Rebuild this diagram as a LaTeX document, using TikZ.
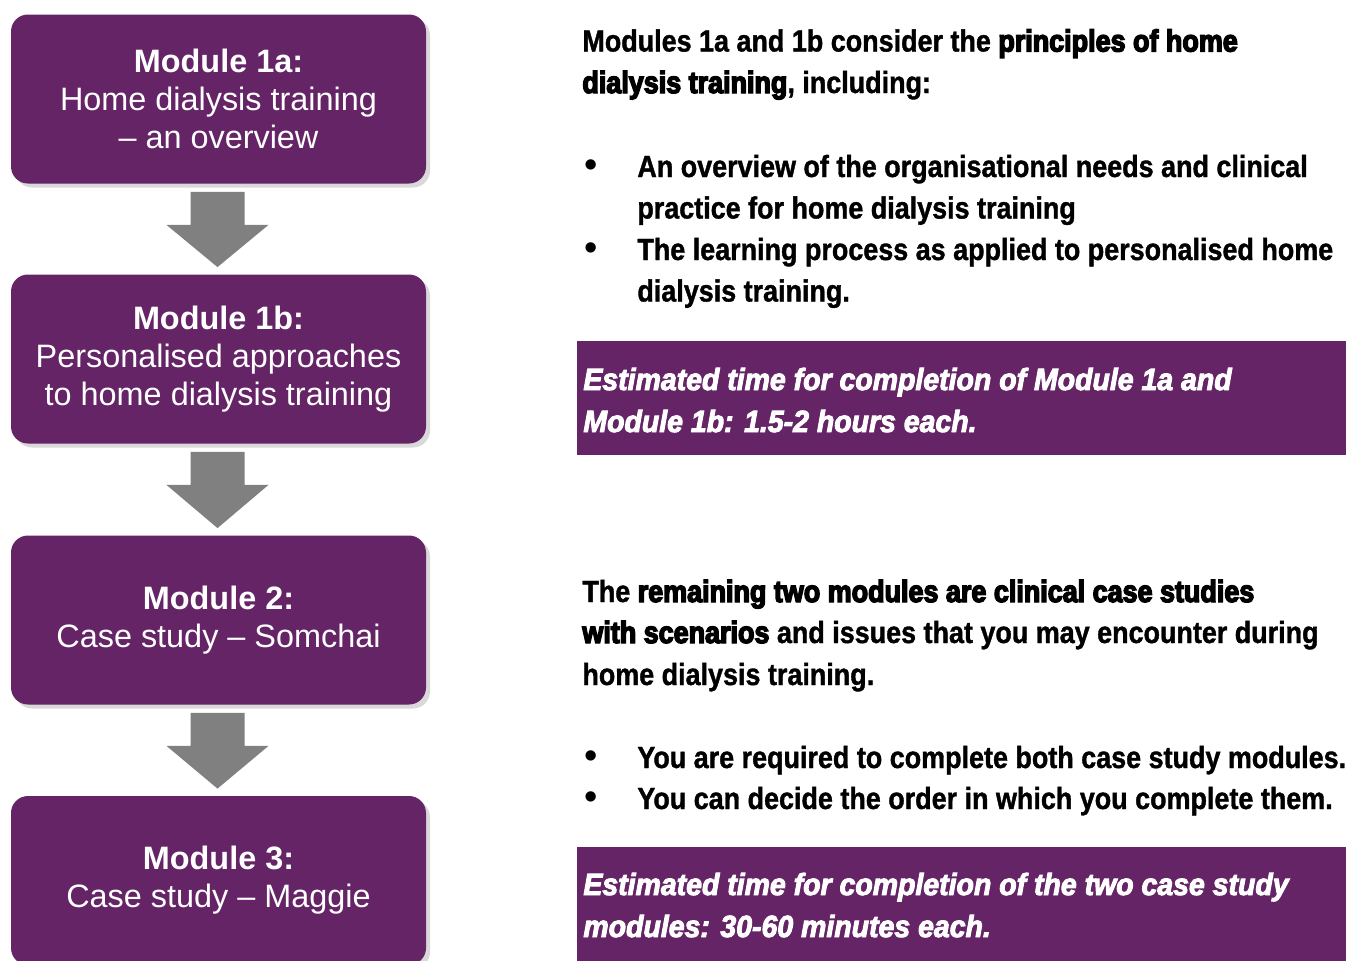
\documentclass[tikz,border=0pt]{standalone}
\usepackage{fontspec}
\setmainfont{Liberation Sans}
\newfontfamily\condfont[FakeStretch=0.88,FakeBold=1.2]{Liberation Sans Bold}
\newfontfamily\condheavy[FakeStretch=0.88,FakeBold=4.5]{Liberation Sans Bold}
\newfontfamily\condslant[FakeStretch=0.93,FakeBold=3]{Liberation Sans Bold Italic}
\newcommand{\hv}[1]{{\condheavy #1}}
\usetikzlibrary{shadows}
\definecolor{modpurple}{RGB}{100,36,102}
\definecolor{arrowgray}{RGB}{128,128,128}
\tikzset{
  modbox/.style={rounded corners=8.5pt, fill=modpurple, text=white, align=center,
    minimum width=207.5pt, minimum height=84.5pt, font=\fontsize{16.2}{19}\selectfont,
    drop shadow={shadow xshift=2pt, shadow yshift=-2pt, opacity=0.3}},
  infotext/.style={anchor=base west, inner sep=0pt, font=\condfont\fontsize{15.3}{21}\selectfont},
  bullet/.style={anchor=base, inner sep=0pt, font=\fontsize{19}{21}\selectfont},
  timetext/.style={infotext, text=white, font=\condslant\fontsize{15.3}{21}\selectfont},
  timebox/.style={fill=modpurple, anchor=north west, inner sep=0pt,
    minimum width=384.5pt, minimum height=57pt},
}

\begin{document}
\begin{tikzpicture}[x=0.5pt,y=-0.5pt]
\useasboundingbox (0,0) rectangle (1346,960);
\clip (0,0) rectangle (1346,960);
% module boxes
\node[modbox] (m1a) at (218.5,99) {\textbf{Module 1a:}\\Home dialysis training\\– an overview};
\node[modbox] (m1b) at (218.5,359) {\textbf{Module 1b:}\\Personalised approaches\\to home dialysis training};
\node[modbox] (m2) at (218.5,620) {\textbf{Module 2:}\\Case study – Somchai};
\node[modbox] (m3) at (218.5,880.5) {\textbf{Module 3:}\\Case study – Maggie};
% block arrows between them
\foreach \a/\b in {m1a/m1b,m1b/m2,m2/m3}
  \fill[arrowgray] ([shift={(-28,8)}]\a.south) -- ++(54,0) -- ++(0,33) -- ++(24,0)
    -- ([shift={(-1,-7)}]\b.north) -- ([shift={(-52,41)}]\a.south) -- ++(24,0) -- cycle;

% modules 1a and 1b
\node[infotext] (p1a) at (582,51.5) {Modules 1a and 1b consider the \hv{principles of home}};
\node[infotext] (p1b) at (582,93) {\hv{dialysis training}, including:};
\node[bullet] (b1) at (591,177) {•};
\node[infotext] (i1a) at (637,177) {An overview of the organisational needs and clinical};
\node[infotext] (i1b) at (637,218.5) {practice for home dialysis training};
\node[bullet] (b2) at (591,260) {•};
\node[infotext] (i2a) at (637,260) {The learning process as applied to personalised home};
\node[infotext] (i2b) at (637,301.5) {dialysis training.};
\node[timebox] (t1) at (577,341) {};
\node[timetext] (t1a) at (583,390) {Estimated time for completion of Module 1a and};
\node[timetext] (t1b) at (583,432) {Module 1b: 1.5-2 hours each.};

% case study modules
\node[infotext] (p2a) at (582,602) {The \hv{remaining two modules are clinical case studies}};
\node[infotext] (p2b) at (582,643) {\hv{with scenarios} and issues that you may encounter during};
\node[infotext] (p2c) at (582,685) {home dialysis training.};
\node[bullet] (b3) at (591,768) {•};
\node[infotext] (i3) at (637,768) {You are required to complete both case study modules.};
\node[bullet] (b4) at (591,809) {•};
\node[infotext] (i4) at (637,809) {You can decide the order in which you complete them.};
\node[timebox] (t2) at (577,847) {};
\node[timetext] (t2a) at (583,895) {Estimated time for completion of the two case study};
\node[timetext] (t2b) at (583,937) {modules: 30-60 minutes each.};
\end{tikzpicture}
\end{document}
